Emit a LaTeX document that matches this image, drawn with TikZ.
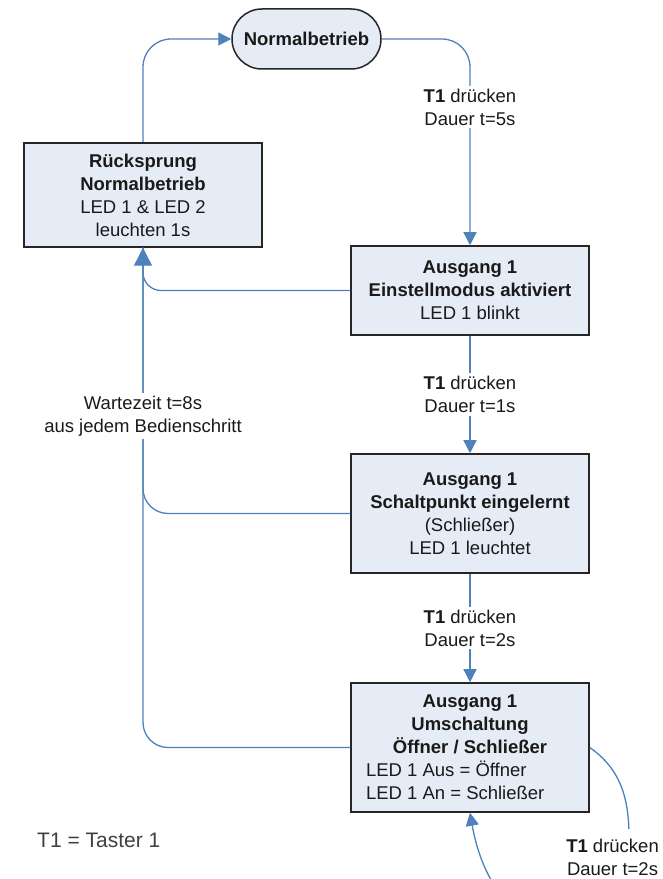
\documentclass[tikz,border=0pt]{standalone}
\usepackage{fontspec}
\setmainfont{Liberation Sans}
\usetikzlibrary{arrows.meta}
\definecolor{lineblue}{HTML}{4F81BD}
\definecolor{boxfill}{HTML}{E6ECF6}
\definecolor{txt}{HTML}{1A1A1A}
\tikzset{
  box/.style={draw=black!85, line width=1.5pt, fill=boxfill, inner sep=0pt,
    minimum width=238pt, align=center, text=txt,
    font=\fontsize{18.5}{23}\selectfont},
  pill/.style={box, minimum width=149pt, minimum height=60pt, rounded corners=29.9pt},
  conn/.style={draw=lineblue, line width=1.3pt},
  flow/.style={conn, -{Triangle[length=13pt,width=13pt]}},
  flowbig/.style={conn, -{Triangle[length=18pt,width=18pt]}},
  lbl/.style={fill=white, inner sep=3pt, align=center, text=txt,
    font=\fontsize{18.5}{23}\selectfont},
}
\begin{document}
\begin{tikzpicture}[x=1pt,y=1pt]
\path[use as bounding box, clip] (0,0) rectangle (662,879);
\fill[white] (0,0) rectangle (662,879);

% nodes
\node[pill] (nb) at (306.5,840) {\textbf{Normalbetrieb}};
\node[box, minimum height=104pt] (rs) at (143,684)
  {\textbf{Rücksprung}\\\textbf{Normalbetrieb}\\LED 1 \& LED 2\\leuchten 1s};
\node[box, minimum height=89pt] (b2) at (470,588.5)
  {\textbf{Ausgang 1}\\\textbf{Einstellmodus aktiviert}\\LED 1 blinkt};
\node[box, minimum height=119pt] (b3) at (470,365.5)
  {\textbf{Ausgang 1}\\\textbf{Schaltpunkt eingelernt}\\(Schließer)\\LED 1 leuchtet};
\node[box, minimum height=129pt] (b4) at (470,131.5)
  {\textbf{Ausgang 1}\\\textbf{Umschaltung}\\\textbf{Öffner / Schließer}\\
   \makebox[208pt][l]{LED 1 Aus = Öffner}\\\makebox[208pt][l]{LED 1 An = Schließer}};

\coordinate (la) at (629,42);
\coordinate (lb) at (560,-45);

% connectors
\draw[flow, rounded corners=28pt] (rs.north) |- (nb.west);
\draw[flow, rounded corners=28pt] (nb.east) -| (b2.north);
\draw[flow] (b2.south) -- (b3.north);
\draw[flow] (b3.south) -- (b4.north);
\draw[conn, rounded corners=18pt] (b2.west) -| (rs.south);
\draw[conn, rounded corners=25pt] (b3.west) -| (rs.south);
\draw[flowbig, rounded corners=25pt] (b4.west) -| (rs.south);
\draw[flow] (b4.east) to[out=-35,in=90] (la) to[out=-90,in=0] (lb) to[out=180,in=-80] (b4.south);

% labels
\node[lbl] (l1) at (470,772) {\textbf{T1} drücken\\Dauer t=5s};
\node[lbl] (l2) at (470,484.5) {\textbf{T1} drücken\\Dauer t=1s};
\node[lbl] (l3) at (470,251) {\textbf{T1} drücken\\Dauer t=2s};
\node[lbl] (l4) at (143,463) {Wartezeit t=8s\\aus jedem Bedienschritt};
\node[lbl, anchor=east, inner xsep=2pt, inner ysep=10pt] (l5) at (661,22) {\textbf{T1} drücken\\Dauer t=2s};
\node[anchor=west, inner sep=0pt, text=black!75, font=\fontsize{21}{25}\selectfont] (legend) at (37,39) {T1 = Taster 1};
\end{tikzpicture}
\end{document}
